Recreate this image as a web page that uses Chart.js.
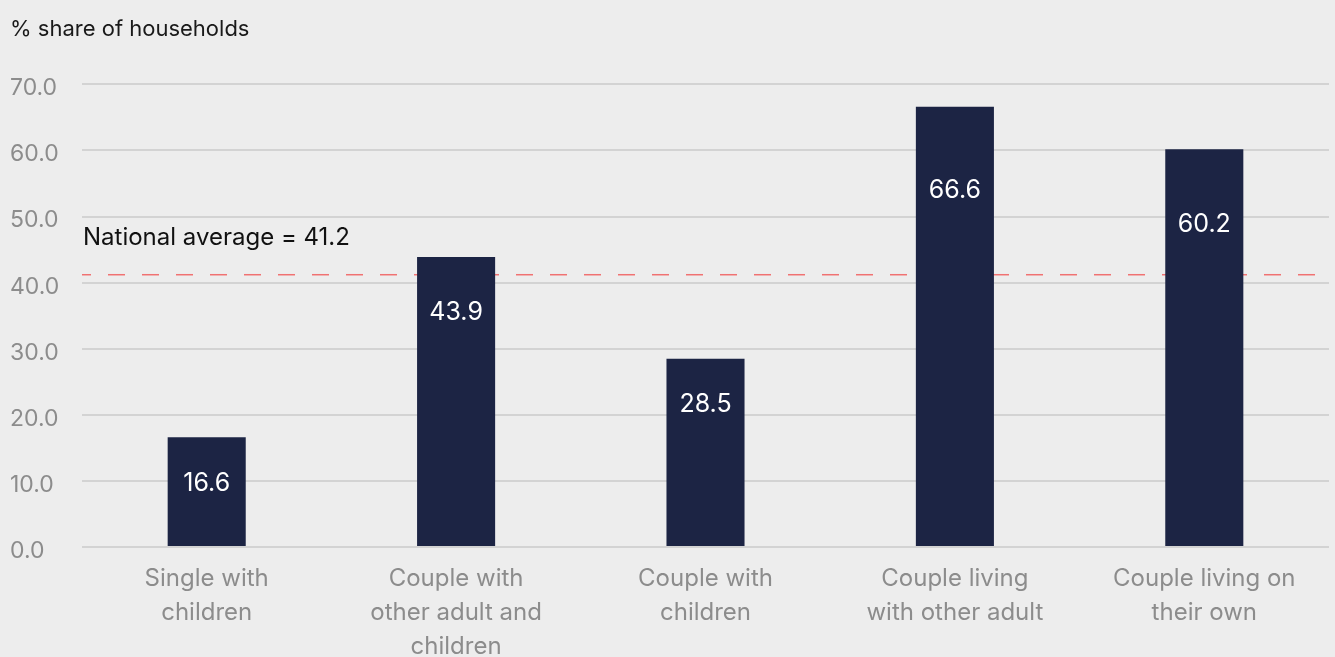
<!DOCTYPE html>
<html lang="en">
<head>
    <meta charset="UTF-8">
    <meta name="viewport" content="width=device-width, initial-scale=1.0">
    <title>Share of households by household type</title>
    <script src="https://cdn.jsdelivr.net/npm/chart.js"></script>
    <style>
        html, body {
            margin: 0;
            padding: 0;
            background-color: #ededed;
            overflow: hidden;
        }
        #chartContainer {
            width: 1335px;
            height: 657px;
        }
    </style>
</head>
<body>
    <div id="chartContainer">
        <canvas id="householdChart"></canvas>
    </div>

    <script>
        // Household types (split over lines as shown on the axis)
        const householdTypes = [
            ['Single with', 'children'],
            ['Couple with', 'other adult and', 'children'],
            ['Couple with', 'children'],
            ['Couple living', 'with other adult'],
            ['Couple living on', 'their own']
        ];
        const shareValues = [16.6, 43.9, 28.5, 66.6, 60.2];
        const nationalAverage = 41.2;
        const yTicks = [0, 10, 20, 30, 40, 50, 60, 70];

        const fontFamily = 'Inter, "Noto Sans", sans-serif';
        Chart.defaults.font.family = fontFamily;

        // Dashed red line for the national average, drawn behind the bars
        const averageLine = {
            id: 'averageLine',
            beforeDatasetsDraw(chart) {
                const { ctx, chartArea, scales } = chart;
                const y = scales.y.getPixelForValue(nationalAverage);
                ctx.save();
                ctx.strokeStyle = '#f07272';
                ctx.lineWidth = 1.5;
                ctx.setLineDash([17, 17]);
                ctx.lineDashOffset = 8;
                ctx.beginPath();
                ctx.moveTo(chartArea.left, y);
                ctx.lineTo(chartArea.right, y);
                ctx.stroke();
                ctx.setLineDash([]);
                ctx.fillStyle = '#111111';
                ctx.font = '24px ' + fontFamily;
                ctx.textAlign = 'left';
                ctx.textBaseline = 'middle';
                ctx.fillText('National average = ' + nationalAverage.toFixed(1), chartArea.left + 1, y - 37);
                ctx.restore();
            }
        };

        // Value labels inside the bars
        const barLabels = {
            id: 'barLabels',
            afterDatasetsDraw(chart) {
                const { ctx, scales } = chart;
                const meta = chart.getDatasetMeta(0);
                ctx.save();
                ctx.fillStyle = '#ffffff';
                ctx.font = '25px ' + fontFamily;
                ctx.textAlign = 'center';
                ctx.textBaseline = 'middle';
                meta.data.forEach((bar, i) => {
                    const v = shareValues[i];
                    const y = scales.y.getPixelForValue(Math.min(v * 0.81, v - 7));
                    ctx.fillText(v.toFixed(1), bar.x, y);
                });
                ctx.restore();
            }
        };

        const ctx = document.getElementById('householdChart').getContext('2d');
        new Chart(ctx, {
            type: 'bar',
            data: {
                labels: householdTypes,
                datasets: [{
                    label: '% share of households',
                    data: shareValues,
                    backgroundColor: '#1c2444',
                    barPercentage: 0.313,
                    categoryPercentage: 1.0
                }]
            },
            options: {
                responsive: true,
                maintainAspectRatio: false,
                animation: false,
                layout: {
                    padding: { left: 10, right: 6, top: 0, bottom: 0 }
                },
                scales: {
                    x: {
                        grid: { display: false },
                        border: { display: false },
                        ticks: {
                            color: '#8c8c8c',
                            padding: 7,
                            maxRotation: 0,
                            autoSkip: false,
                            font: { size: 24, lineHeight: 1.42 }
                        },
                        afterFit(scale) {
                            scale.height = 110;
                        }
                    },
                    y: {
                        min: 0,
                        max: 70,
                        afterBuildTicks(scale) {
                            scale.ticks = yTicks.map(v => ({ value: v }));
                        },
                        grid: {
                            color: '#d3d3d3',
                            lineWidth: 2,
                            drawTicks: false
                        },
                        border: { display: false },
                        ticks: {
                            color: '#8c8c8c',
                            crossAlign: 'far',
                            labelOffset: 4,
                            font: { size: 23 },
                            callback: value => value.toFixed(1)
                        },
                        afterFit(scale) {
                            scale.width = 72;
                        }
                    }
                },
                plugins: {
                    legend: { display: false },
                    tooltip: { enabled: false },
                    title: {
                        display: true,
                        text: '% share of households',
                        align: 'start',
                        color: '#1a1a1a',
                        font: { size: 22, weight: 'normal' },
                        padding: { top: 16, bottom: 42 }
                    }
                }
            },
            plugins: [averageLine, barLabels]
        });
    </script>
</body>
</html>
